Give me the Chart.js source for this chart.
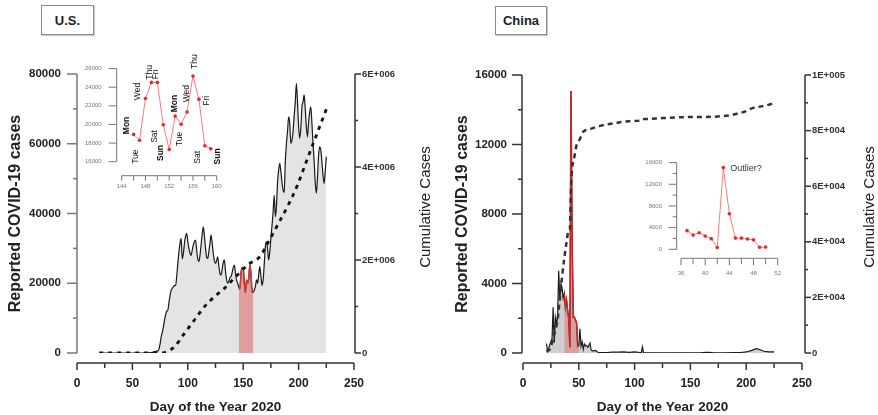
<!DOCTYPE html>
<html>
<head>
<meta charset="utf-8">
<script src="https://cdn.jsdelivr.net/npm/chart.js@4.4.1/dist/chart.umd.min.js"></script>
<style>
  html, body { margin: 0; padding: 0; background: #fff; }
  #wrap { position: relative; width: 878px; height: 415px; overflow: hidden; font-family: 'Liberation Sans', Arial, sans-serif; }
  canvas { position: absolute; }
  .tag { position: absolute; box-sizing: border-box; border: 1px solid #8a8a8a; box-shadow: 1px 1px 1px #ccc;
         display: flex; align-items: center; justify-content: center; font-weight: bold; font-size: 13px; color: #222; }
</style>
</head>
<body>
<div id="wrap">
  <div class="tag" style="left:41px;top:5px;width:53px;height:30px">U.S.</div>
  <div class="tag" style="left:495px;top:6px;width:52px;height:29px">China</div>
  <canvas id="usMain" width="440" height="415" style="left:0;top:0"></canvas>
  <canvas id="cnMain" width="438" height="415" style="left:440px;top:0"></canvas>
  <canvas id="usInset" width="155" height="152" style="left:75px;top:45px"></canvas>
  <canvas id="cnInset" width="160" height="145" style="left:630px;top:140px"></canvas>
</div>
<script>
// ---- U.S. daily reported cases, one value per day starting at day 20
const usFirstDay = 20;
const usDaily = [
  0, 0, 0, 0, 0, 0, 0, 0, 0, 0, 0, 0, 0, 0, 0, 0, 0, 0, 0, 0,
  0, 0, 0, 0, 0, 0, 0, 0, 0, 0, 0, 0, 0, 0, 0, 0, 0, 0, 0, 0,
  10, 15, 20, 30, 50, 70, 100, 150, 200, 300, 400, 500, 550,
  600, 1200, 2600, 4700, 6000, 7500, 9500, 11000, 12000, 12300, 14500, 16500,
  18000, 18500, 19000, 19300, 19400, 22000, 25700, 29000, 31500, 32900,
  27000, 28500, 31500, 33500, 34300, 32000, 30000, 28600, 28000, 29500,
  31000, 32000, 32400, 29500, 27000, 26200, 28000, 31000, 34000, 36200,
  33500, 30000, 27500, 27100, 29000, 31500, 33800, 31500, 28500, 26500,
  25700, 26500, 27600, 25000, 22800, 22400, 24000, 26000, 26700, 23500,
  21000, 20000, 20500, 21500, 21900, 23000, 24500, 25200, 23000, 21000,
  20000, 18930, 18310, 22790, 24520, 24520, 19970, 17310, 20900, 20030,
  21340, 25200, 22720, 17720, 17380,
  18000, 19000, 21000, 20000, 22500, 24800, 22000, 19400, 21000, 25500,
  30500, 31900, 30000, 26700, 29000, 33000, 36500, 40500, 45300, 39100,
  42000, 49000, 52500, 54400, 52000, 49000, 46700, 46000, 55000, 60000,
  63500, 67700, 66000, 60100, 61000, 63500, 68000, 72000, 77300, 72000,
  65000, 61500, 64500, 70600, 72000, 74000, 70000, 64900, 62000, 66000,
  69000, 70600, 66000, 60000, 55300, 49000, 45800, 50000, 56500, 59100,
  58200, 55000, 51000, 48600, 52000, 56300
];
// U.S. cumulative cases (right axis)
const usCumDays = [20, 73, 79, 83, 88, 97, 106, 115, 124, 133, 142, 155, 165, 172, 181, 191, 199, 207, 216, 225];
const usCum = [0, 0, 10000, 50000, 135000, 423000, 710000, 996000, 1210000, 1390000, 1610000,
               1910000, 2070000, 2360000, 2750000, 3200000, 3610000, 4120000, 4680000, 5240000];
// highlighted fortnight and its weekday labels
const usFocus = [146, 159];
const usWeekdays = ['Mon', 'Tue', 'Wed', 'Thu', 'Fri', 'Sat', 'Sun', 'Mon', 'Tue', 'Wed', 'Thu', 'Fri', 'Sat', 'Sun'];

// ---- China daily reported cases
const cnDays = [
  21, 22, 23, 24, 25, 26, 27, 28, 29, 30, 31, 32, 33, 34, 35, 36, 37, 38, 39, 40,
  41, 42, 43, 44, 45, 46, 47, 48, 49, 50, 51, 52, 53, 54, 55, 56, 57, 58, 59, 60,
  61, 62, 63, 64, 65, 66, 67, 68, 70, 75, 80, 85, 90, 95, 100, 105, 106, 107, 108,
  110, 115, 120, 130, 140, 150, 160, 165, 170, 180, 190, 195, 200, 205, 209, 212, 216, 220, 225
];
const cnDaily = [
  548, 95, 277, 486, 669, 802, 2632, 578, 2054, 1661, 2089, 4739, 3086, 3991, 3733, 3147, 3440, 2620, 3050, 2460,
  1970, 330, 15080, 6560, 2070, 2070, 1900, 1740, 380, 410, 1400, 400, 650, 220, 510, 410, 430, 330, 430, 570,
  200, 125, 120, 140, 145, 100, 45, 30, 25, 30, 45, 50, 60, 35, 60, 30, 25, 352, 20,
  15, 10, 5, 5, 10, 5, 20, 40, 25, 10, 20, 30, 60, 150, 250, 200, 100, 60, 60
];
// China cumulative cases (right axis)
const cnCumDays = [21, 23, 25, 27, 29, 31, 33, 35, 37, 39, 41, 42, 43, 44, 46, 48, 51, 54, 58, 62,
                   70, 81, 95, 106, 107, 111, 125, 141, 160, 171, 185, 193, 200, 205, 215, 225];
const cnCum = [550, 920, 2000, 5500, 8200, 11900, 19700, 27400, 34100, 39800, 44400, 44700, 59800, 66300, 70400, 74800, 77000, 79600, 80300, 80800,
               81800, 82600, 83400, 83700, 84100, 84200, 84500, 84800, 84900, 85000, 85500, 86200, 87000, 88000, 88800, 89800];
const cnFocus = [37, 50];

// ---- axis ticks
const xTicks = { min: 0, max: 250, step: 25, labelStep: 50 };
const usLeftTicks = { max: 80000, step: 10000, labelStep: 20000 };
const usRightTicks = { max: 6000000, step: 1000000, labelStep: 2000000 };
const cnLeftTicks = { max: 16000, step: 2000, labelStep: 4000 };
const cnRightTicks = { max: 100000, step: 10000, labelStep: 20000 };
const usInsetX = { min: 144, max: 160, step: 2, labelStep: 4 };
const usInsetY = { min: 16000, max: 26000, step: 2000, labelStep: 2000 };
const cnInsetX = { min: 36, max: 52, step: 2, labelStep: 4 };
const cnInsetY = { min: 0, max: 16000, step: 2000, labelStep: 4000 };

const FONT = "'Liberation Sans', Arial, sans-serif";
Chart.defaults.font.family = FONT;
Chart.defaults.color = '#222';

function isStep(v, step) {
  return Math.abs(v / step - Math.round(v / step)) < 1e-6;
}

// 6000000 -> "6E+006"
function sciLabel(v) {
  if (v === 0) return '0';
  const e = Math.floor(Math.log10(v) + 1e-9);
  const m = Math.round(v / Math.pow(10, e));
  return m + 'E+' + String(e).padStart(3, '0');
}

/* axis lines drawn detached from the plot, with long labelled ticks and short minor ones */
const axisFrame = {
  id: 'axisFrame',
  afterDraw(chart, args, o) {
    const { ctx, chartArea: a, scales } = chart;
    ctx.save();
    ctx.strokeStyle = o.color;
    ctx.lineWidth = o.lineWidth;
    const seg = (x1, y1, x2, y2) => { ctx.beginPath(); ctx.moveTo(x1, y1); ctx.lineTo(x2, y2); ctx.stroke(); };

    const x = scales.x;
    const xy = a.bottom + o.xGap;
    seg(x.getPixelForValue(x.min), xy, x.getPixelForValue(x.max), xy);
    x.ticks.forEach(t => {
      const px = x.getPixelForValue(t.value);
      seg(px, xy, px, xy + (isStep(t.value, o.xLabelStep) ? o.xTick[0] : o.xTick[1]));
    });

    const y = scales.y;
    const lx = a.left + o.leftGap;
    ctx.strokeStyle = o.leftColor || o.color;
    seg(lx, y.getPixelForValue(y.min), lx, y.getPixelForValue(y.max));
    y.ticks.forEach(t => {
      const py = y.getPixelForValue(t.value);
      seg(lx, py, lx - (isStep(t.value, o.yLabelStep) ? o.yTick[0] : o.yTick[1]), py);
    });
    ctx.strokeStyle = o.color;

    const y2 = scales.y2;
    if (y2) {
      const rx = a.right + o.rightGap;
      seg(rx, y2.getPixelForValue(y2.min), rx, y2.getPixelForValue(y2.max));
      y2.ticks.forEach(t => {
        const py = y2.getPixelForValue(t.value);
        seg(rx, py, rx + (isStep(t.value, o.y2LabelStep) ? o.y2Tick[0] : o.y2Tick[1]), py);
      });
    }

    if (o.rightTitle) {
      ctx.translate(o.rightTitle.x, o.rightTitle.y);
      ctx.rotate(-Math.PI / 2);
      ctx.fillStyle = '#222';
      ctx.font = '15px ' + FONT;
      ctx.textAlign = 'center';
      ctx.textBaseline = 'middle';
      ctx.fillText(o.rightTitle.text, 0, 0);
    }
    ctx.restore();
  }
};

/* small text placed next to points of the first dataset */
const pointNotes = {
  id: 'pointNotes',
  afterDatasetsDraw(chart, args, o) {
    if (!o.items) return;
    const { ctx } = chart;
    const pts = chart.getDatasetMeta(0).data;
    o.items.forEach(it => {
      const el = pts[it.index];
      if (!el) return;
      ctx.save();
      ctx.translate(el.x + it.dx, el.y + it.dy);
      if (it.rotate) ctx.rotate(-Math.PI / 2);
      ctx.font = (it.bold ? 'bold ' : '') + it.size + 'px ' + FONT;
      ctx.fillStyle = it.color || '#111';
      ctx.textAlign = it.align || 'center';
      ctx.textBaseline = 'middle';
      ctx.fillText(it.text, 0, 0);
      ctx.restore();
    });
  }
};

function mainChart(id, c) {
  return new Chart(document.getElementById(id), {
    type: 'line',
    data: { datasets: c.datasets },
    options: {
      responsive: false,
      animation: false,
      events: [],
      layout: { padding: { top: c.area.top, left: 0, right: 0, bottom: 0 } },
      plugins: {
        legend: { display: false },
        tooltip: { enabled: false },
        axisFrame: {
          color: '#333', leftColor: c.leftColor, lineWidth: 1.5,
          xGap: 10, leftGap: c.leftGap, rightGap: c.rightGap,
          xLabelStep: xTicks.labelStep, yLabelStep: c.left.labelStep, y2LabelStep: c.right.labelStep,
          xTick: [7, 5], yTick: [10, 4], y2Tick: [6, 3],
          rightTitle: { text: 'Cumulative Cases', x: c.rightTitleX, y: 207 }
        }
      },
      scales: {
        x: {
          type: 'linear', min: xTicks.min, max: xTicks.max,
          grid: { display: false, drawTicks: false }, border: { display: false },
          afterFit: s => { s.height = c.h - c.area.bottom; },
          ticks: {
            stepSize: xTicks.step, autoSkip: false, maxRotation: 0, padding: 23,
            font: { size: 12, weight: 'bold' },
            callback: v => isStep(v, xTicks.labelStep) ? String(v) : ''
          },
          title: { display: true, text: 'Day of the Year 2020', font: { size: 13.5, weight: 'bold' }, padding: 0 }
        },
        y: {
          position: 'left', min: 0, max: c.left.max,
          grid: { display: false, drawTicks: false }, border: { display: false },
          afterFit: s => { s.width = c.area.left; },
          ticks: {
            stepSize: c.left.step, padding: c.leftLabelPad,
            font: { size: 11.5, weight: 'bold' },
            callback: v => isStep(v, c.left.labelStep) ? String(v) : ''
          },
          title: { display: true, text: 'Reported COVID-19 cases', font: { size: 16, weight: 'bold' },
                   padding: { top: c.yTitlePad, bottom: 0 } }
        },
        y2: {
          position: 'right', min: 0, max: c.right.max,
          grid: { display: false, drawTicks: false }, border: { display: false },
          afterFit: s => { s.width = c.w - c.area.right; },
          ticks: {
            stepSize: c.right.step, padding: c.rightLabelPad,
            font: { size: 9.5, weight: 'bold' }, color: '#333',
            callback: v => isStep(v, c.right.labelStep) ? sciLabel(v) : ''
          }
        }
      }
    },
    plugins: [axisFrame]
  });
}

function insetChart(id, c) {
  return new Chart(document.getElementById(id), {
    type: 'line',
    data: {
      datasets: [{
        data: c.points, borderColor: '#ff7a7a', borderWidth: 1,
        pointRadius: 1.8, pointBackgroundColor: '#e8262b', pointBorderWidth: 0,
        fill: false, tension: 0
      }]
    },
    options: {
      responsive: false,
      animation: false,
      events: [],
      layout: { padding: { top: c.area.top, left: 0, right: c.w - c.area.right, bottom: 0 } },
      plugins: {
        legend: { display: false },
        tooltip: { enabled: false },
        axisFrame: {
          color: '#777', lineWidth: 1,
          xGap: c.xGap, leftGap: c.leftGap,
          xLabelStep: c.x.labelStep, yLabelStep: c.y.labelStep,
          xTick: c.xTick, yTick: c.yTick
        },
        pointNotes: { items: c.notes }
      },
      scales: {
        x: {
          type: 'linear', min: c.x.min, max: c.x.max,
          // an invisible tick mark pushes the labels down without widening the side padding
          grid: { display: true, drawOnChartArea: false, drawTicks: true, tickLength: c.xLabelPad, color: 'rgba(0,0,0,0)' },
          border: { display: false },
          afterFit: s => { s.height = c.h - c.area.bottom; },
          ticks: {
            stepSize: c.x.step, autoSkip: false, maxRotation: 0, padding: 0,
            font: { size: 6 }, color: '#777',
            callback: v => isStep(v, c.x.labelStep) ? String(v) : ''
          }
        },
        y: {
          min: c.y.min, max: c.y.max,
          grid: { display: false, drawTicks: false }, border: { display: false },
          afterFit: s => { s.width = c.area.left; },
          ticks: {
            stepSize: c.y.step, padding: c.yLabelPad,
            font: { size: 6 }, color: '#777',
            callback: v => isStep(v, c.y.labelStep) ? String(v) : ''
          }
        }
      }
    },
    plugins: [axisFrame, pointNotes]
  });
}

// ---- U.S.
const usPoints = usDaily.map((v, i) => ({ x: usFirstDay + i, y: v }));
const usFocusPoints = usPoints.filter(p => p.x >= usFocus[0] && p.x <= usFocus[1]);
const usCumPoints = usCumDays.map((d, i) => ({ x: d, y: usCum[i] }));

mainChart('usMain', {
  w: 440, h: 415,
  area: { left: 77, right: 354, top: 74, bottom: 353 },
  leftGap: 0, rightGap: 1, leftLabelPad: 16, rightLabelPad: 8, yTitlePad: 6.4, rightTitleX: 426,
  leftColor: '#777',
  left: usLeftTicks, right: usRightTicks,
  datasets: [
    { data: usCumPoints, yAxisID: 'y2', borderColor: '#111', borderWidth: 2.8, borderDash: [4, 5],
      pointRadius: 0, fill: false, tension: 0.3, cubicInterpolationMode: 'monotone', order: 0 },
    { data: usFocusPoints, yAxisID: 'y', borderColor: '#c43c3c', borderWidth: 1.6,
      backgroundColor: 'rgba(220, 90, 90, 0.5)', fill: 'origin', pointRadius: 0,
      tension: 0.3, cubicInterpolationMode: 'monotone', order: 1 },
    { data: usPoints, yAxisID: 'y', borderColor: '#1a1a1a', borderWidth: 1.2,
      backgroundColor: '#e4e4e4', fill: 'origin', pointRadius: 0,
      tension: 0.3, cubicInterpolationMode: 'monotone', order: 2 }
  ]
});

// where each weekday label sits relative to its point (px)
const usNoteOffsets = [
  [-7, -9], [-4, 16.5], [-7.4, -7], [-1.7, -10], [-1.5, -8], [-8.3, 11.7], [-8.3, 3.5],
  [-0.7, -12.6], [-1.2, 14.8], [-0.6, -18.3], [1.7, -14.4], [7.4, 1.6], [-6.7, 11.7], [6.7, 7.5]
];

insetChart('usInset', {
  w: 155, h: 152,
  area: { left: 46.7, right: 141.7, top: 20, bottom: 116.7 },
  x: usInsetX, y: usInsetY,
  xGap: 14, leftGap: -5, xTick: [5, 5], yTick: [8, 8],
  xLabelPad: 21, yLabelPad: 20,
  points: usFocusPoints,
  notes: usWeekdays.map((t, i) => ({
    index: i, text: t, dx: usNoteOffsets[i][0], dy: usNoteOffsets[i][1],
    rotate: true, size: 8.5, bold: t === 'Mon' || t === 'Sun'
  }))
});

// ---- China
const cnPoints = cnDays.map((d, i) => ({ x: d, y: cnDaily[i] }));
const cnFocusPoints = cnPoints.filter(p => p.x >= cnFocus[0] && p.x <= cnFocus[1]);
const cnCumPoints = cnCumDays.map((d, i) => ({ x: d, y: cnCum[i] }));

mainChart('cnMain', {
  w: 438, h: 415,
  area: { left: 83, right: 362, top: 75, bottom: 353 },
  leftGap: -1, rightGap: 3, leftLabelPad: 16, rightLabelPad: 10, yTitlePad: 13.4, rightTitleX: 430,
  left: cnLeftTicks, right: cnRightTicks,
  datasets: [
    { data: cnCumPoints, yAxisID: 'y2', borderColor: '#333', borderWidth: 2.5, borderDash: [5, 4],
      pointRadius: 0, fill: false, tension: 0.3, cubicInterpolationMode: 'monotone', order: 0 },
    { data: cnFocusPoints, yAxisID: 'y', borderColor: '#c62828', borderWidth: 1.5,
      backgroundColor: 'rgba(225, 100, 100, 0.45)', fill: 'origin', pointRadius: 0, tension: 0, order: 1 },
    { data: cnPoints, yAxisID: 'y', borderColor: '#1a1a1a', borderWidth: 1.2,
      backgroundColor: '#cfcfcf', fill: 'origin', pointRadius: 0, tension: 0, order: 2 }
  ]
});

const outlierIndex = cnFocusPoints.findIndex(p => p.y === Math.max(...cnFocusPoints.map(q => q.y)));

insetChart('cnInset', {
  w: 160, h: 145,
  area: { left: 51, right: 147.7, top: 11.7, bottom: 109.3 },
  x: cnInsetX, y: cnInsetY,
  xGap: 9, leftGap: -4.3, xTick: [7, 6], yTick: [8, 4],
  xLabelPad: 20, yLabelPad: 19,
  points: cnFocusPoints,
  notes: [{ index: outlierIndex, text: 'Outlier?', dx: 7, dy: 1, size: 9, align: 'left', color: '#333' }]
});
</script>
</body>
</html>
